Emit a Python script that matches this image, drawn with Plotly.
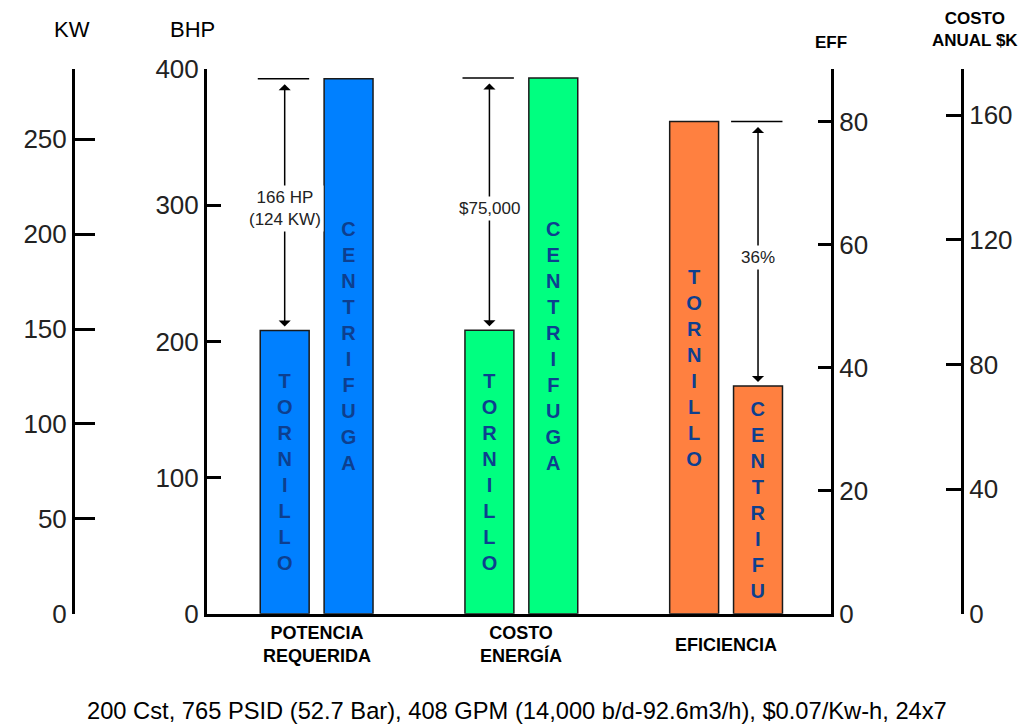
import plotly.graph_objects as go

# ---------------- data ----------------
categories = ["POTENCIA<br>REQUERIDA", "COSTO<br>ENERGÍA", "EFICIENCIA"]
potencia_bhp = [208, 393]          # tornillo, centrifuga (BHP axis)
costo_k = [91, 172]                # tornillo, centrifuga (costo anual $K axis)
eficiencia = [80, 37]              # tornillo, centrifuga (EFF axis)
bar_labels_pot = ["TORNILLO", "CENTRIFUGA"]
bar_labels_cost = ["TORNILLO", "CENTRIFUGA"]
bar_labels_eff = ["TORNILLO", "CENTRIFU"]
diff_labels = ["166 HP<br>(124 KW)", "$75,000", "36%"]

bhp_ticks = [0, 100, 200, 300, 400]
kw_ticks = [0, 50, 100, 150, 200, 250]
eff_ticks = [0, 20, 40, 60, 80]
cost_ticks = [0, 40, 80, 120, 160]

# ---------------- style ----------------
W, H = 1025, 724
# observed mapping of paper height onto the photographed image
OFF_Y, EFF_H = 17, 692
FONT = "Liberation Sans, Arial, sans-serif"
TXT_BLUE = "#0d3f8f"
colors = ["#0080ff", "#00ff80", "#ff8040"]


def py(img_y):
    return 1 - (img_y - OFF_Y) / EFF_H


x_left, x_right = 207, 831
y_top, y_bot = 71, 614
dom_x = [x_left / W, x_right / W]
dom_y = [py(y_bot), py(y_top)]

BAR_W = 0.239
offsets = [-0.275, 0.037]

kw_max, eff_max, cost_max = 287, 88.5, 174.8


def vert(s):
    return "<br>".join(list(s))


fig = go.Figure()

series = [
    (categories[0], potencia_bhp, bar_labels_pot, "y", colors[0]),
    (categories[1], costo_k, bar_labels_cost, "y4", colors[1]),
    (categories[2], eficiencia, bar_labels_eff, "y3", colors[2]),
]
for cat, vals, labs, yax, col in series:
    fig.add_trace(go.Bar(
        x=[cat, cat], y=vals, yaxis=yax,
        offset=offsets, width=BAR_W,
        marker=dict(color=col, line=dict(color="#1a1a1a", width=1.5)),
        text=[vert(l) for l in labs],
        textposition="inside", insidetextanchor="middle", textangle=0,
        textfont=dict(family=FONT, size=20, color=TXT_BLUE, weight="bold"),
        constraintext="none",
        hoverinfo="skip", showlegend=False,
    ))

common_y = dict(showgrid=False, zeroline=False, showline=True, linecolor="black",
                linewidth=3, ticks="inside", tickwidth=3, tickcolor="black",
                tickfont=dict(family=FONT, size=26, color="#222"), domain=dom_y)

fig.update_layout(
    width=W, height=H, margin=dict(l=0, r=0, t=0, b=0),
    paper_bgcolor="white", plot_bgcolor="white", barmode="overlay",
    xaxis=dict(domain=dom_x, type="category", categoryorder="array",
               categoryarray=categories, range=[-0.535, 2.513],
               showline=True, linecolor="black", linewidth=3, ticks="",
               showticklabels=False,
               showgrid=False, zeroline=False, anchor="y"),
    yaxis=dict(range=[0, 400], tickvals=bhp_ticks, ticklen=14, anchor="x",
               side="left", **common_y),
    yaxis2=dict(range=[0, kw_max], tickvals=kw_ticks + [kw_max],
                ticktext=[str(t) for t in kw_ticks] + [""], ticklen=20,
                anchor="free", position=73 / W, overlaying="y", side="left",
                **common_y),
    yaxis3=dict(range=[0, eff_max], tickvals=eff_ticks + [eff_max],
                ticktext=[str(t) for t in eff_ticks] + [""], ticklen=13,
                anchor="x", overlaying="y", side="right", **common_y),
    yaxis4=dict(range=[0, cost_max], tickvals=cost_ticks + [cost_max],
                ticktext=[str(t) for t in cost_ticks] + [""], ticklen=15,
                anchor="free", position=962 / W, overlaying="y", side="right",
                **common_y),
)

# invisible trace so the KW axis (yaxis2) is drawn
fig.add_trace(go.Scatter(x=[categories[0]], y=[0], yaxis="y2", mode="markers",
                         marker=dict(opacity=0), hoverinfo="skip", showlegend=False))

# category labels under the x axis (centred vertically like the original)
for cat in categories:
    fig.add_annotation(x=cat, y=py(645), xref="x", yref="paper", text=cat,
                       showarrow=False, yanchor="middle", xanchor="center",
                       font=dict(family=FONT, size=18, color="black", weight="bold"))

# ---------------- difference arrows ----------------
centers = [o + BAR_W / 2 for o in offsets]
arrow_specs = [
    # (cat idx, values, yref, bar holding arrow, level of ref line, bar under ref line)
    (0, potencia_bhp, "y", 0, 1, 0),
    (1, costo_k, "y4", 0, 1, 0),
    (2, eficiencia, "y3", 1, 0, 1),
]
for i, (ci, vals, yref, abar, lvl, lbar) in enumerate(arrow_specs):
    xa = ci + centers[abar]
    top, bot = max(vals), min(vals)
    fig.add_shape(type="line", xref="x", yref=yref,
                  x0=ci + offsets[lbar] - 0.012, x1=ci + offsets[lbar] + BAR_W,
                  y0=vals[lvl], y1=vals[lvl], line=dict(color="black", width=1.5))
    fig.add_annotation(x=xa, y=bot, ax=xa, ay=top, xref="x", yref=yref,
                       axref="x", ayref=yref, text="", showarrow=True,
                       arrowhead=1, arrowsize=1.35, arrowwidth=1.5, arrowcolor="black",
                       arrowside="end+start", startarrowhead=1, startarrowsize=1.35,
                       standoff=4, startstandoff=4)
    fig.add_annotation(x=xa, y=(top + bot) / 2, xref="x", yref=yref, yshift=-4,
                       text=diff_labels[i], showarrow=False, bgcolor="white",
                       font=dict(family=FONT, size=17, color="#222"), borderpad=2)

# ---------------- axis titles & caption ----------------
titles = [
    ("KW", 72, 31, 22, "normal"),
    ("BHP", 192, 31, 22, "normal"),
    ("EFF", 831, 44, 17, "bold"),
    ("COSTO<br>ANUAL $K", 975, 31, 17, "bold"),
]
for t, px, pyy, fs, wt in titles:
    fig.add_annotation(x=px / W, y=py(pyy), xref="paper", yref="paper",
                       text=t, showarrow=False, xanchor="center", yanchor="middle",
                       font=dict(family=FONT, size=fs, color="black", weight=wt))

fig.add_annotation(x=516.5 / W, y=py(711), xref="paper", yref="paper",
                   text="200 Cst, 765 PSID (52.7 Bar), 408 GPM (14,000 b/d-92.6m3/h), $0.07/Kw-h, 24x7",
                   showarrow=False, xanchor="center", yanchor="middle",
                   font=dict(family=FONT, size=23.7, color="black"))

fig.write_html("out.html")
